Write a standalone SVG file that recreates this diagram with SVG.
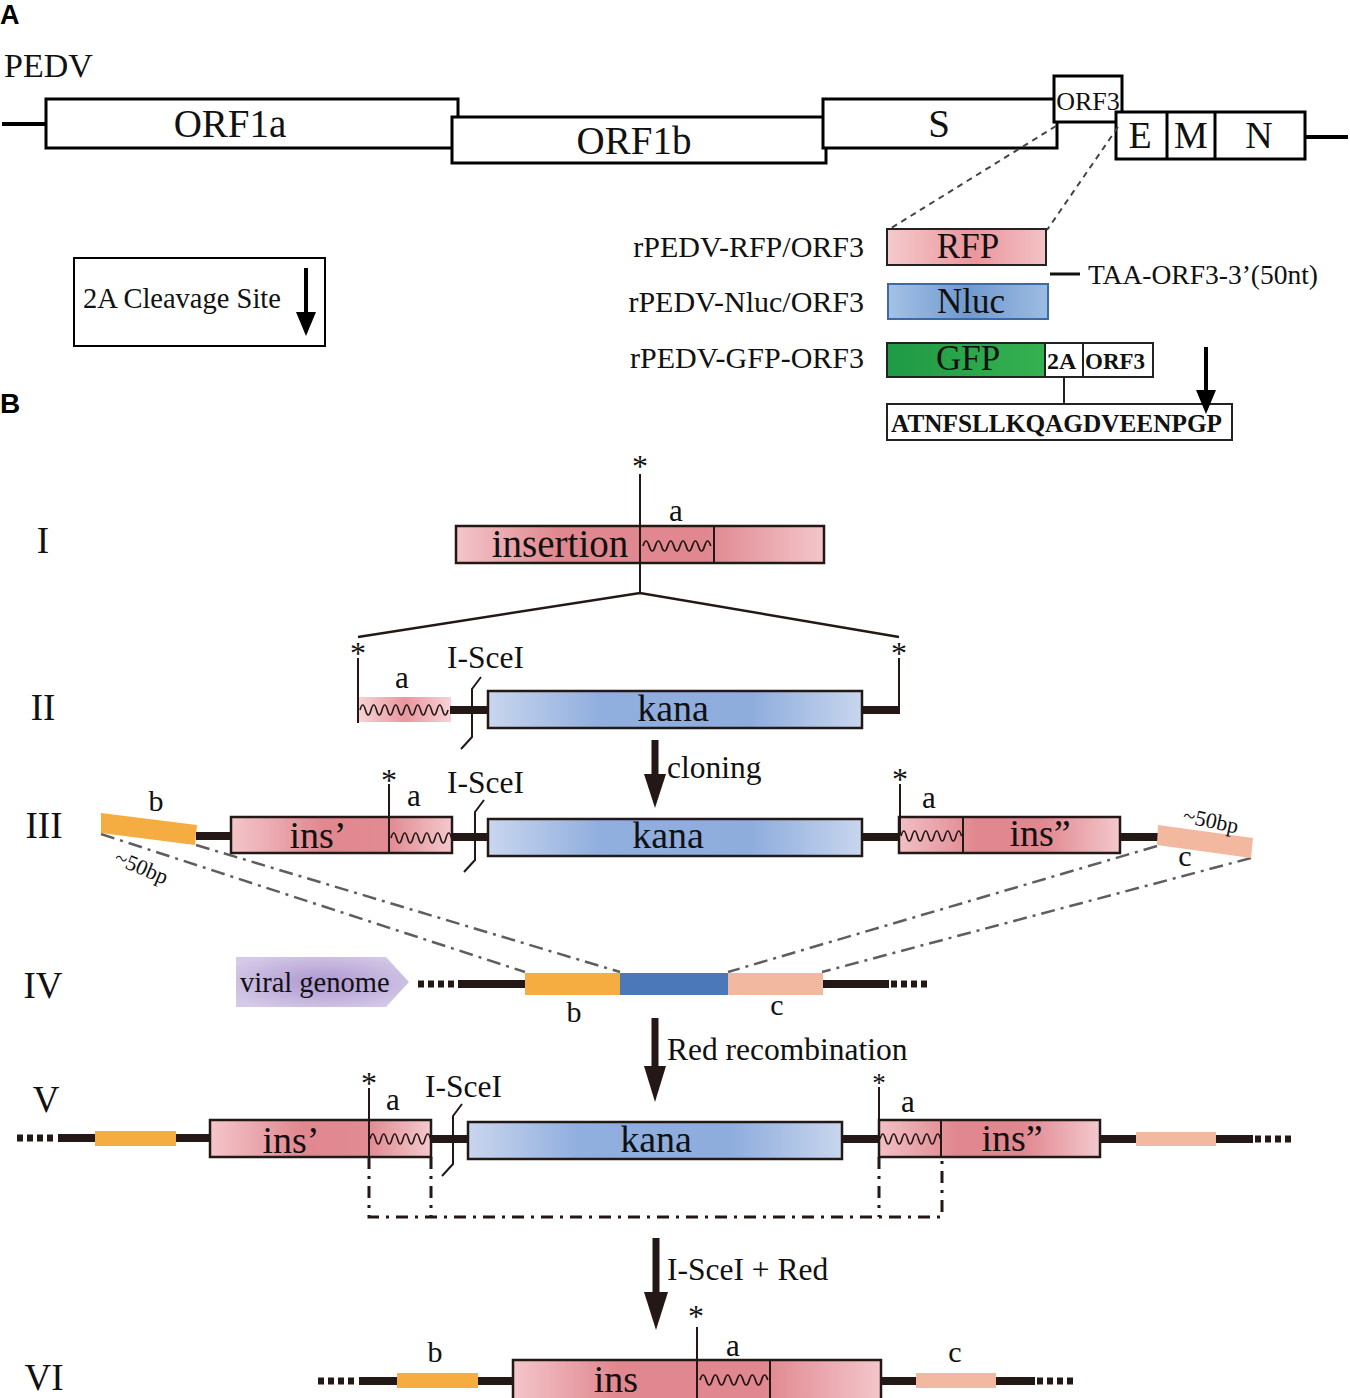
<svg xmlns="http://www.w3.org/2000/svg" xmlns:xlink="http://www.w3.org/1999/xlink" width="1350" height="1398" viewBox="0 0 1350 1398">
<style>
text{font-family:"Liberation Serif","Times New Roman",serif;fill:#111;}
.pl{font-family:"Liberation Sans",Arial,sans-serif;font-weight:bold;font-size:27px;fill:#000;}
.boxA{fill:#fff;stroke:#000;stroke-width:3;}
.gl{font-size:39px;text-anchor:middle;}
.lbl{font-size:30px;text-anchor:end;}
.rn{font-size:37px;text-anchor:middle;}
.bx{stroke:#231815;stroke-width:2.5;}
.bl{font-size:38px;text-anchor:middle;}
.sm{font-size:31.5px;}
.st{font-size:32px;text-anchor:middle;}
.thick{stroke:#231815;stroke-width:8;fill:none;}
.dots{stroke:#231815;stroke-width:7;stroke-dasharray:6 4;fill:none;}
.thin{stroke:#231815;stroke-width:2;fill:none;}
.wave{stroke:#231815;stroke-width:1.6;fill:none;}
.dd{stroke:#5e5e5e;stroke-width:2.5;stroke-dasharray:14 6 3 6;fill:none;}
.ddk{stroke:#231815;stroke-width:3;stroke-dasharray:12 7 3 7;fill:none;}
.arr{fill:#231815;}
</style>
<defs>
<linearGradient id="gIns" x1="0" y1="0" x2="1" y2="0"><stop offset="0" stop-color="#f3c6cb"/><stop offset="0.28" stop-color="#e1878f"/><stop offset="0.68" stop-color="#e1878f"/><stop offset="1" stop-color="#f3c6cb"/></linearGradient>
<linearGradient id="gInsL" x1="0" y1="0" x2="1" y2="0"><stop offset="0" stop-color="#f3c6cb"/><stop offset="0.42" stop-color="#e1878f"/><stop offset="0.72" stop-color="#e28b93"/><stop offset="1" stop-color="#f3c9cd"/></linearGradient>
<linearGradient id="gInsR" x1="0" y1="0" x2="1" y2="0"><stop offset="0" stop-color="#f1c0c5"/><stop offset="0.35" stop-color="#e1878f"/><stop offset="0.65" stop-color="#e1878f"/><stop offset="1" stop-color="#f3c9cd"/></linearGradient>
<linearGradient id="gA" x1="0" y1="0" x2="1" y2="0"><stop offset="0" stop-color="#f6d3d6"/><stop offset="0.5" stop-color="#e8979e"/><stop offset="1" stop-color="#f6d3d6"/></linearGradient>
<linearGradient id="gKana" x1="0" y1="0" x2="1" y2="0"><stop offset="0" stop-color="#c9d6ee"/><stop offset="0.3" stop-color="#90aede"/><stop offset="0.7" stop-color="#8eacdc"/><stop offset="1" stop-color="#c8d6ee"/></linearGradient>
<linearGradient id="gRFP" x1="0" y1="0" x2="1" y2="0"><stop offset="0" stop-color="#f5cacc"/><stop offset="0.55" stop-color="#ea969c"/><stop offset="1" stop-color="#f3c3c6"/></linearGradient>
<linearGradient id="gNluc" x1="0" y1="0" x2="1" y2="0"><stop offset="0" stop-color="#a5c2e6"/><stop offset="0.5" stop-color="#7099cf"/><stop offset="1" stop-color="#9dbce2"/></linearGradient>
<linearGradient id="gGFP" x1="0" y1="0" x2="1" y2="0"><stop offset="0" stop-color="#1f9a45"/><stop offset="1" stop-color="#36b150"/></linearGradient>
<radialGradient id="gViral" cx="0.5" cy="0.5" r="0.6"><stop offset="0" stop-color="#ad97d0"/><stop offset="1" stop-color="#d4c9e7"/></radialGradient>
<path id="wv" class="wave" d="M0 0 q2.75 -10 5.5 0 t5.5 0 t5.5 0 t5.5 0 t5.5 0 t5.5 0 t5.5 0 t5.5 0 t5.5 0 t5.5 0 t5.5 0"/>
<path id="brk" class="thin" d="M0 0 l-9 12 v48 l-11 12"/>
</defs>

<!-- ===== Panel A ===== -->
<text class="pl" x="0" y="24">A</text>
<text x="4" y="77" style="font-size:34px">PEDV</text>

<g id="genome">
<line x1="2" y1="124" x2="46" y2="124" stroke="#000" stroke-width="4"/>
<line x1="1305" y1="137" x2="1348" y2="137" stroke="#000" stroke-width="4"/>
</g>
<g id="orf1a"><rect class="boxA" x="46" y="99" width="412" height="49"/><text class="gl" x="230" y="137">ORF1a</text></g>
<g id="orf1b"><rect class="boxA" x="452" y="117" width="374" height="46"/><text class="gl" x="634" y="154">ORF1b</text></g>
<g id="s"><rect class="boxA" x="823" y="99" width="234" height="49"/><text class="gl" x="939" y="137">S</text></g>
<g id="orf3"><rect class="boxA" x="1054" y="76" width="68" height="46"/><text x="1088" y="110" style="font-size:26px;text-anchor:middle">ORF3</text></g>
<g id="emn"><rect class="boxA" x="1116" y="112" width="189" height="47"/>
<line x1="1167" y1="112" x2="1167" y2="159" stroke="#000" stroke-width="3"/>
<line x1="1215" y1="112" x2="1215" y2="159" stroke="#000" stroke-width="3"/>
<text x="1140" y="148" style="font-size:38px;text-anchor:middle">E</text>
<text x="1191" y="148" style="font-size:38px;text-anchor:middle">M</text>
<text x="1259" y="148" style="font-size:38px;text-anchor:middle">N</text></g>

<g id="legend"><rect x="74" y="258" width="251" height="88" fill="#fff" stroke="#000" stroke-width="2"/>
<text x="83" y="308" style="font-size:28.5px">2A Cleavage Site</text>
<line x1="306" y1="268" x2="306" y2="316" stroke="#000" stroke-width="4"/>
<polygon points="296,312 316,312 306,336" fill="#000"/></g>

<g id="rfp"><text class="lbl" x="864" y="257">rPEDV-RFP/ORF3</text>
<rect x="887" y="229" width="159" height="36" fill="url(#gRFP)" stroke="#222" stroke-width="2"/>
<text x="968" y="258" style="font-size:35px;text-anchor:middle">RFP</text></g>
<g id="nluc"><text class="lbl" x="864" y="312">rPEDV-Nluc/ORF3</text>
<rect x="888" y="284" width="160" height="35" fill="url(#gNluc)" stroke="#3a6aa8" stroke-width="2"/>
<text x="971" y="313" style="font-size:35px;text-anchor:middle">Nluc</text></g>
<g id="gfp"><text class="lbl" x="864" y="368">rPEDV-GFP-ORF3</text>
<rect x="887" y="343" width="158" height="34" fill="url(#gGFP)" stroke="#222" stroke-width="2"/>
<text x="968" y="370" style="font-size:35px;text-anchor:middle">GFP</text>
<rect x="1045" y="343" width="38" height="34" fill="#fff" stroke="#222" stroke-width="2"/>
<rect x="1083" y="343" width="70" height="34" fill="#fff" stroke="#222" stroke-width="2"/>
<text x="1047" y="369" style="font-size:24px;font-weight:bold">2A</text>
<text x="1085" y="369" style="font-size:23px;font-weight:bold">ORF3</text></g>
<g id="taa"><text x="1088" y="284" style="font-size:27.5px">TAA-ORF3-3’(50nt)</text></g>
<g id="seq"><rect x="887" y="404" width="345" height="36" fill="#fff" stroke="#222" stroke-width="2"/>
<text x="891" y="432" textLength="331" lengthAdjust="spacingAndGlyphs" style="font-size:25px;font-weight:bold">ATNFSLLKQAGDVEENPGP</text>
<line x1="1206" y1="347" x2="1206" y2="394" stroke="#000" stroke-width="4"/>
<polygon points="1196,390 1216,390 1206,414" fill="#000"/></g>

<!-- ===== Panel B ===== -->
<text class="pl" x="0" y="413" style="font-size:28px">B</text>
<text class="rn" x="43" y="553">I</text>
<text class="rn" x="43" y="720">II</text>
<text class="rn" x="44" y="838">III</text>
<text class="rn" x="43" y="998">IV</text>
<text class="rn" x="46" y="1112">V</text>
<text class="rn" x="44" y="1390">VI</text>

<g id="connectors">
<path d="M1056 126 L888 230" stroke="#444" stroke-width="2" stroke-dasharray="6 5" fill="none"/>
<path d="M1118 127 L1047 230" stroke="#444" stroke-width="2" stroke-dasharray="6 5" fill="none"/>
<line x1="1050" y1="274" x2="1080" y2="274" stroke="#111" stroke-width="3"/>
<line x1="1064" y1="377" x2="1064" y2="404" stroke="#222" stroke-width="2"/>
<path d="M358 637 L640 593 L899 637" stroke="#231815" stroke-width="2.5" fill="none"/>
<path class="dd" d="M101 834 L525 972"/>
<path class="dd" d="M196 845 L620 972"/>
<path class="dd" d="M1157 846 L728 972"/>
<path class="dd" d="M1251 858 L822 972"/>
<path class="ddk" d="M369 1157 V1217 H942 V1157"/>
<path class="ddk" d="M431 1157 V1217"/>
<path class="ddk" d="M879 1157 V1217"/>
</g>

<!-- I -->
<g id="rowI">
<rect class="bx" x="456" y="526" width="368" height="37" fill="url(#gIns)"/>
<line class="thin" x1="714" y1="526" x2="714" y2="563"/>
<use href="#wv" transform="translate(643,546) scale(1.12,1)"/>
<line class="thin" x1="640" y1="474" x2="640" y2="593"/>
<text class="st" x="640" y="477">*</text>
<text x="676" y="521" style="font-size:31px;text-anchor:middle">a</text>
<text x="560" y="557" style="font-size:39px;text-anchor:middle">insertion</text>
</g>

<!-- II -->
<g id="rowII">
<rect x="359" y="697" width="92" height="25" fill="url(#gA)"/>
<path class="wave" d="M360 710 q2.75 -10 5.5 0 t5.5 0 t5.5 0 t5.5 0 t5.5 0 t5.5 0 t5.5 0 t5.5 0 t5.5 0 t5.5 0 t5.5 0 t5.5 0 t5.5 0 t5.5 0 t5.5 0 t5.5 0"/>
<line class="thin" x1="358" y1="658" x2="358" y2="723"/>
<text class="st" x="358" y="664">*</text>
<text x="402" y="688" style="font-size:31px;text-anchor:middle">a</text>
<line class="thick" x1="450" y1="710" x2="489" y2="710"/>
<text class="sm" x="447" y="668">I-SceI</text>
<use href="#brk" x="481" y="677"/>
<rect class="bx" x="488" y="691" width="374" height="37" fill="url(#gKana)"/>
<text class="bl" x="673" y="721">kana</text>
<path class="thick" d="M862 710 H899"/>
<line class="thin" x1="899" y1="658" x2="899" y2="714"/>
<text class="st" x="899" y="664">*</text>
</g>

<g id="arrow1"><line x1="655" y1="740" x2="655" y2="778" stroke="#231815" stroke-width="7"/><polygon class="arr" points="644,774 666,774 655,808"/>
<text class="sm" x="667" y="778">cloning</text></g>

<!-- III -->
<g id="rowIII">
<polygon points="101,813 197,825 195,845 101,833" fill="#f5ad42"/>
<text x="156" y="811" style="font-size:30px;text-anchor:middle">b</text>
<text x="113" y="863" transform="rotate(23 113 863)" style="font-size:22px">~50bp</text>
<line class="thick" x1="196" y1="836" x2="231" y2="836"/>
<rect class="bx" x="231" y="817" width="221" height="36" fill="url(#gInsL)"/>
<line class="thin" x1="389" y1="784" x2="389" y2="853"/>
<text class="st" x="389" y="791">*</text>
<use href="#wv" x="391" y="838"/>
<text x="414" y="806" style="font-size:31px;text-anchor:middle">a</text>
<text class="bl" x="318" y="848">ins’</text>
<text class="sm" x="447" y="793">I-SceI</text>
<line class="thick" x1="452" y1="837" x2="489" y2="837"/>
<use href="#brk" x="484" y="800"/>
<rect class="bx" x="488" y="819" width="374" height="37" fill="url(#gKana)"/>
<text class="bl" x="668" y="848">kana</text>
<line class="thick" x1="862" y1="837" x2="900" y2="837"/>
<rect class="bx" x="899" y="817" width="221" height="36" fill="url(#gInsR)"/>
<line class="thin" x1="963" y1="817" x2="963" y2="853"/>
<line class="thin" x1="900" y1="784" x2="900" y2="835"/>
<text class="st" x="900" y="790">*</text>
<use href="#wv" x="901" y="836"/>
<text x="929" y="808" style="font-size:31px;text-anchor:middle">a</text>
<text class="bl" x="1040" y="846">ins”</text>
<line class="thick" x1="1120" y1="837" x2="1158" y2="837"/>
<polygon points="1158,825 1253,838 1251,858 1157,845" fill="#f3b8a0"/>
<text x="1182" y="822" transform="rotate(12 1182 822)" style="font-size:22px">~50bp</text>
<text x="1185" y="866" style="font-size:30px;text-anchor:middle">c</text>
</g>

<!-- IV -->
<g id="rowIV">
<polygon points="236,957 386,957 409,982 386,1007 236,1007" fill="url(#gViral)"/>
<text x="240" y="992" style="font-size:28.5px">viral genome</text>
<line class="dots" x1="418" y1="984" x2="456" y2="984"/>
<line class="thick" x1="458" y1="984" x2="525" y2="984"/>
<rect x="525" y="973" width="95" height="22" fill="#f5ad42"/>
<rect x="620" y="973" width="108" height="22" fill="#4a78b8"/>
<rect x="728" y="973" width="95" height="22" fill="#f3b8a0"/>
<line class="thick" x1="823" y1="984" x2="889" y2="984"/>
<line class="dots" x1="891" y1="984" x2="930" y2="984"/>
<text x="574" y="1022" style="font-size:30px;text-anchor:middle">b</text>
<text x="777" y="1015" style="font-size:30px;text-anchor:middle">c</text>
</g>

<g id="arrow2"><line x1="655" y1="1018" x2="655" y2="1068" stroke="#231815" stroke-width="7"/><polygon class="arr" points="644,1066 666,1066 655,1102"/>
<text x="667" y="1060" style="font-size:31.5px">Red recombination</text></g>

<!-- V -->
<g id="rowV">
<line class="dots" x1="17" y1="1138" x2="57" y2="1138"/>
<line class="thick" x1="58" y1="1138" x2="95" y2="1138"/>
<rect x="95" y="1131" width="81" height="15" fill="#f5ad42"/>
<line class="thick" x1="176" y1="1138" x2="210" y2="1138"/>
<rect class="bx" x="210" y="1120" width="221" height="37" fill="url(#gInsL)"/>
<line class="thin" x1="369" y1="1088" x2="369" y2="1157"/>
<text class="st" x="369" y="1094">*</text>
<use href="#wv" x="370" y="1139"/>
<text x="393" y="1110" style="font-size:31px;text-anchor:middle">a</text>
<text class="bl" x="291" y="1153">ins’</text>
<text class="sm" x="425" y="1097">I-SceI</text>
<line class="thick" x1="431" y1="1139" x2="468" y2="1139"/>
<use href="#brk" x="462" y="1104"/>
<rect class="bx" x="468" y="1122" width="374" height="37" fill="url(#gKana)"/>
<text class="bl" x="656" y="1152">kana</text>
<line class="thick" x1="842" y1="1139" x2="879" y2="1139"/>
<rect class="bx" x="879" y="1120" width="221" height="37" fill="url(#gInsR)"/>
<line class="thin" x1="941" y1="1120" x2="941" y2="1157"/>
<line class="thin" x1="879" y1="1087" x2="879" y2="1120"/>
<text x="879" y="1092" style="font-size:27px;text-anchor:middle">*</text>
<use href="#wv" x="880" y="1139"/>
<text x="908" y="1112" style="font-size:31px;text-anchor:middle">a</text>
<text class="bl" x="1012" y="1151">ins”</text>
<line class="thick" x1="1100" y1="1139" x2="1136" y2="1139"/>
<rect x="1136" y="1132" width="80" height="14" fill="#f3b8a0"/>
<line class="thick" x1="1216" y1="1139" x2="1253" y2="1139"/>
<line class="dots" x1="1255" y1="1139" x2="1293" y2="1139"/>
</g>

<g id="arrow3"><line x1="656" y1="1238" x2="656" y2="1296" stroke="#231815" stroke-width="7"/><polygon class="arr" points="644,1292 668,1292 656,1330"/>
<text class="sm" x="667" y="1280">I-SceI + Red</text></g>

<!-- VI -->
<g id="rowVI">
<line class="dots" x1="318" y1="1381" x2="358" y2="1381"/>
<line class="thick" x1="359" y1="1381" x2="397" y2="1381"/>
<rect x="397" y="1373" width="81" height="15" fill="#f5ad42"/>
<line class="thick" x1="478" y1="1381" x2="513" y2="1381"/>
<rect class="bx" x="513" y="1360" width="368" height="44" fill="url(#gIns)"/>
<line class="thin" x1="770" y1="1360" x2="770" y2="1398"/>
<line class="thin" x1="697" y1="1327" x2="697" y2="1398"/>
<text class="st" x="696" y="1327">*</text>
<use href="#wv" transform="translate(700,1380) scale(1.12,1)"/>
<text x="733" y="1356" style="font-size:31px;text-anchor:middle">a</text>
<text x="435" y="1362" style="font-size:30px;text-anchor:middle">b</text>
<text x="955" y="1362" style="font-size:30px;text-anchor:middle">c</text>
<text class="bl" x="616" y="1392">ins</text>
<line class="thick" x1="881" y1="1381" x2="916" y2="1381"/>
<rect x="916" y="1373" width="80" height="15" fill="#f3b8a0"/>
<line class="thick" x1="996" y1="1381" x2="1035" y2="1381"/>
<line class="dots" x1="1037" y1="1381" x2="1073" y2="1381"/>
</g>
</svg>
